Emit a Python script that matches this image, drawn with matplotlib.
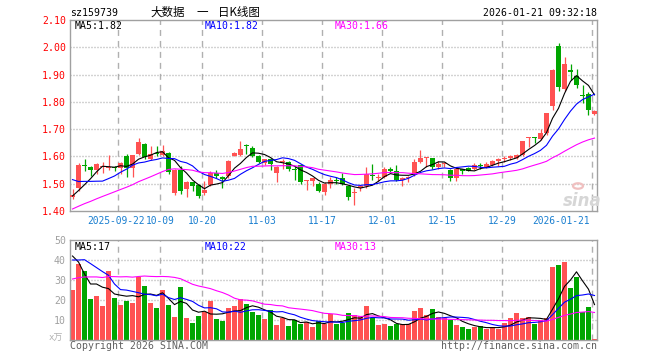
import matplotlib
matplotlib.use('Agg')
import matplotlib.pyplot as plt
import matplotlib.transforms as mtrans
from matplotlib.patches import Circle
import numpy as np
import pandas as pd

# daily candles of sz159739, oldest first
opens = [1.450, 1.485, 1.570, 1.562, 1.550, 1.560, 1.558, 1.560, 1.559, 1.602,
         1.559, 1.610, 1.646, 1.592, 1.612, 1.605, 1.612, 1.465, 1.552, 1.480,
         1.505, 1.496, 1.466, 1.497, 1.540, 1.523, 1.528, 1.603, 1.605, 1.640,
         1.632, 1.603, 1.575, 1.590, 1.540, 1.580, 1.580, 1.552, 1.568, 1.510,
         1.510, 1.500, 1.470, 1.500, 1.515, 1.522, 1.492, 1.465, 1.483, 1.491,
         1.530, 1.520, 1.525, 1.553, 1.547, 1.512, 1.520, 1.535, 1.578, 1.595,
         1.594, 1.560, 1.573, 1.550, 1.522, 1.553, 1.559, 1.555, 1.567, 1.562,
         1.570, 1.585, 1.592, 1.593, 1.595, 1.607, 1.667, 1.671, 1.663, 1.685,
         1.783, 2.006, 1.847, 1.918, 1.896, 1.826, 1.829, 1.755]
highs = [1.480, 1.575, 1.590, 1.565, 1.575, 1.580, 1.605, 1.565, 1.580, 1.609,
         1.607, 1.667, 1.648, 1.640, 1.640, 1.643, 1.615, 1.555, 1.565, 1.510,
         1.508, 1.500, 1.510, 1.545, 1.550, 1.530, 1.586, 1.618, 1.655, 1.647,
         1.640, 1.606, 1.592, 1.596, 1.565, 1.590, 1.583, 1.565, 1.572, 1.515,
         1.522, 1.505, 1.505, 1.525, 1.525, 1.540, 1.495, 1.485, 1.495, 1.562,
         1.572, 1.535, 1.560, 1.562, 1.570, 1.525, 1.528, 1.590, 1.625, 1.598,
         1.595, 1.585, 1.578, 1.553, 1.560, 1.555, 1.560, 1.575, 1.575, 1.578,
         1.586, 1.594, 1.603, 1.605, 1.610, 1.658, 1.672, 1.672, 1.700, 1.760,
         1.920, 2.015, 1.965, 1.937, 1.920, 1.860, 1.837, 1.770]
lows = [1.445, 1.475, 1.546, 1.527, 1.534, 1.540, 1.550, 1.545, 1.535, 1.525,
        1.525, 1.605, 1.590, 1.588, 1.600, 1.600, 1.535, 1.460, 1.462, 1.450,
        1.475, 1.448, 1.458, 1.490, 1.520, 1.485, 1.520, 1.600, 1.600, 1.610,
        1.598, 1.575, 1.570, 1.550, 1.508, 1.555, 1.545, 1.512, 1.500, 1.478,
        1.490, 1.470, 1.460, 1.483, 1.500, 1.495, 1.442, 1.423, 1.475, 1.485,
        1.515, 1.510, 1.520, 1.540, 1.510, 1.490, 1.507, 1.530, 1.575, 1.560,
        1.555, 1.555, 1.560, 1.510, 1.510, 1.535, 1.545, 1.550, 1.555, 1.556,
        1.565, 1.565, 1.580, 1.588, 1.590, 1.600, 1.635, 1.648, 1.660, 1.680,
        1.770, 1.840, 1.840, 1.879, 1.849, 1.797, 1.753, 1.752]
closes = [1.460, 1.570, 1.566, 1.550, 1.571, 1.563, 1.562, 1.556, 1.577, 1.559,
          1.605, 1.652, 1.598, 1.608, 1.608, 1.620, 1.542, 1.550, 1.475, 1.508,
          1.493, 1.455, 1.478, 1.540, 1.528, 1.519, 1.584, 1.614, 1.628, 1.637,
          1.602, 1.578, 1.590, 1.573, 1.560, 1.584, 1.555, 1.550, 1.505, 1.512,
          1.520, 1.475, 1.500, 1.512, 1.511, 1.500, 1.450, 1.468, 1.491, 1.537,
          1.527, 1.523, 1.553, 1.545, 1.512, 1.522, 1.522, 1.578, 1.594, 1.597,
          1.560, 1.572, 1.575, 1.522, 1.553, 1.545, 1.547, 1.568, 1.565, 1.574,
          1.584, 1.587, 1.594, 1.600, 1.607, 1.656, 1.669, 1.668, 1.685, 1.758,
          1.918, 1.853, 1.939, 1.908, 1.863, 1.822, 1.769, 1.766]
# volume in 万 (10k lots)
volumes = [25, 38, 34.5, 20.5, 22, 17, 34.5, 21, 17.5, 19.5,
           18.5, 31.5, 27, 18.5, 16, 25, 17.5, 11.5, 26.5, 11,
           8.5, 12, 14, 19.5, 10.5, 9.5, 16, 17, 20.5, 18,
           14, 12.5, 10.5, 15, 7.5, 11, 7, 10, 8, 9,
           6.5, 9.5, 8, 13, 8, 8.5, 13.5, 12.5, 12, 17,
           11, 7.5, 8, 7, 8, 8, 8, 14.5, 16, 12.5,
           15.5, 11.5, 11, 10, 7.5, 6.5, 5.5, 6.5, 7, 5.5,
           6.5, 5.5, 8.5, 11, 13.5, 11, 11.5, 8, 10, 11,
           36.5, 37.5, 39, 26, 31.5, 14, 16.5, 0.5]

# sessions before the first visible candle, only used to seed the moving averages
prev_closes = [1.27, 1.28, 1.30, 1.29, 1.30, 1.31, 1.30, 1.32, 1.31, 1.33,
               1.32, 1.33, 1.34, 1.32, 1.33, 1.31, 1.48, 1.52, 1.55, 1.56,
               1.64, 1.56, 1.55, 1.565, 1.56, 1.47, 1.46, 1.44, 1.445]
prev_volumes = [18, 24, 20, 22, 26, 19, 23, 21, 17, 25,
                22, 20, 24, 19, 23, 21, 22, 46, 52, 51,
                38, 33, 40, 42, 37, 53, 64.5, 45.5, 22]

date_idx = [8, 15, 22, 32, 42, 52, 62, 72, 87]
date_labels = ['2025-09-22', '10-09', '10-20', '11-03', '11-17',
               '12-01', '12-15', '12-29', '2026-01-21']
price_ticks = [1.40, 1.50, 1.60, 1.70, 1.80, 1.90, 2.00, 2.10]
vol_ticks = [10, 20, 30, 40, 50]
ma_price_text = ['MA5:1.82', 'MA10:1.82', 'MA30:1.66']
ma_vol_text = ['MA5:17', 'MA10:22', 'MA30:13']

RED = '#ff5252'
GREEN = '#00a600'
MA_COLORS = ['#000000', '#0000ff', '#ff00ff']
MONO = 'DejaVu Sans Mono'
W, H = 660, 360

plt.rcParams['lines.scale_dashes'] = False


def fx(px):
    return px / W


def fy(py):
    return 1 - py / H


def px_to_idx(px):
    # candle i is centred at pixel 72.5 + 6 * i
    return (px - 72.5) / 6


o = np.array(opens)
c = np.array(closes)
hi = np.array(highs)
lo = np.array(lows)
v = np.array(volumes)
x = np.arange(len(c))
n_prev = len(prev_closes)
colors = [RED if cc >= oo else GREEN for oo, cc in zip(o, c)]

all_c = pd.Series(prev_closes + closes)
all_v = pd.Series(prev_volumes + volumes)
ma_c = [all_c.rolling(k).mean().to_numpy()[n_prev:] for k in (5, 10, 30)]
ma_v = [all_v.rolling(k).mean().to_numpy()[n_prev:] for k in (5, 10, 30)]

fig = plt.figure(figsize=(6.6, 3.6), dpi=100)
ax = fig.add_axes([fx(70), fy(211), fx(527), 191 / H])
axv = fig.add_axes([fx(70), fy(340), fx(527), 100 / H])

xlim = (px_to_idx(70), px_to_idx(597))
grid_x = [i - 2.5 / 6 for i in date_idx]

for a in (ax, axv):
    a.set_xlim(*xlim)
    a.set_xticks([])
    for s in a.spines.values():
        s.set_color('#a0a0a0')
        s.set_linewidth(1)
    for gx in grid_x:
        a.axvline(gx, color='#b0b0b0', lw=1, ls=(0, (4.3, 3.6)), zorder=0)
    a.tick_params(axis='y', length=0, pad=3)

# candles
body_bot = np.minimum(o, c)
body_h = np.maximum(np.abs(c - o), 0.004)
ax.vlines(x, lo, hi, colors=colors, lw=0.9, zorder=2)
ax.bar(x, body_h, bottom=body_bot, width=0.83, color=colors, lw=0, zorder=3)
for m, col in zip(ma_c, MA_COLORS):
    ax.plot(x, m, color=col, lw=0.8, zorder=4)
ax.set_ylim(1.40, 2.10)
ax.set_yticks(price_ticks)
ax.set_yticklabels(['%.2f' % t for t in price_ticks], color='#ff0000',
                   family=MONO, fontsize=7.1)
for t in price_ticks[1:-1]:
    ax.axhline(t, color='#a8a8a8', lw=1, ls=(0, (0.72, 1.44)), zorder=0)

# volume
axv.bar(x, v, width=0.83, color=colors, lw=0, zorder=2)
for m, col in zip(ma_v, MA_COLORS):
    axv.plot(x, m, color=col, lw=0.8, zorder=3)
axv.set_ylim(0, 50)
axv.set_yticks(vol_ticks)
axv.set_yticklabels([str(t) for t in vol_ticks], color='#a0a0a0',
                    family=MONO, fontsize=7.1)
for t in vol_ticks[:-1]:
    axv.axhline(t, color='#a8a8a8', lw=1, ls=(0, (0.72, 1.44)), zorder=0)

# date labels under the price panel; the first two sit back to back,
# the last one is pulled inside the frame
anchor = list(grid_x)
align = ['center'] * len(grid_x)
anchor[0], align[0] = px_to_idx(145), 'right'
anchor[1], align[1] = px_to_idx(145.5), 'left'
anchor[-1], align[-1] = px_to_idx(590), 'right'
trans = mtrans.blended_transform_factory(ax.transData, ax.transAxes)
for ax_x, lab, ha in zip(anchor, date_labels, align):
    ax.text(ax_x, -10 / 191, lab, transform=trans, ha=ha, va='center',
            color='#1a7fd0', family=MONO, fontsize=6.9)

# moving average captions
for px, txt, col in zip((75, 205, 335), ma_price_text, MA_COLORS):
    fig.text(fx(px), fy(26), txt, color=col, family=MONO, fontsize=7.1,
             va='center')
for px, txt, col in zip((75, 205, 335), ma_vol_text, MA_COLORS):
    fig.text(fx(px), fy(246.5), txt, color=col, family=MONO, fontsize=7.1,
             va='center')

# header
fig.text(fx(70), fy(12.5), 'sz159739', family=MONO, fontsize=7.1, va='center')
cjk = ['Noto Sans CJK SC', 'DejaVu Sans']
fig.text(fx(150), fy(12.5), '大数据', family=cjk, fontsize=8.3, va='center')
fig.text(fx(196), fy(12.5), '一', family=cjk, fontsize=8.3, va='center')
fig.text(fx(218), fy(12.5), '日K线图', family=cjk, fontsize=8.3, va='center')
fig.text(fx(597), fy(12.5), '2026-01-21 09:32:18', family=MONO, fontsize=7.1,
         va='center', ha='right')

# footer
fig.text(fx(49), fy(338), 'x万', family=[MONO, 'Noto Sans CJK SC'],
         fontsize=6.5, color='#b0b0b0', va='center')
fig.text(fx(70), fy(346), 'Copyright 2026 SINA.COM', family=MONO,
         fontsize=7.1, color='#606060', va='center')
fig.text(fx(597), fy(346), 'http://finance.sina.com.cn', family=MONO,
         fontsize=7.1, color='#606060', va='center', ha='right')

# sina watermark
fig.patches.append(Circle((fx(578), fy(186)), 5 / W, transform=fig.transFigure,
                          facecolor='none', edgecolor='#f0c0c0', lw=1.6))
fig.text(fx(582), fy(201), 'sina', fontsize=12, color='#d6d6d6', ha='center',
         va='center', style='italic', weight='bold')

fig.savefig('out.png', dpi=100)
